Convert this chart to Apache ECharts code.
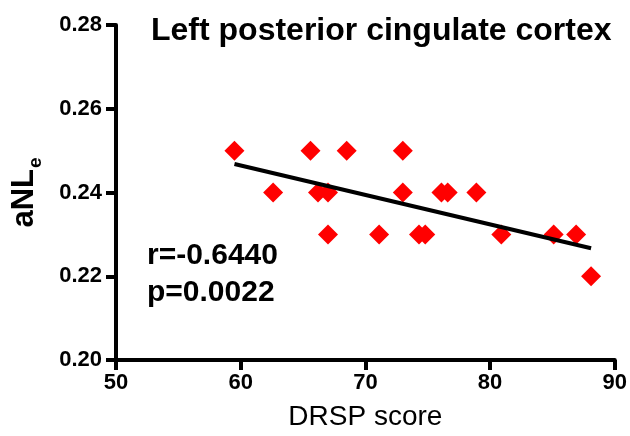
<!DOCTYPE html>
<html>
<head>
<meta charset="utf-8">
<script src="https://cdn.jsdelivr.net/npm/echarts@6/dist/echarts.min.js"></script>
<style>
  html, body { margin: 0; padding: 0; background: #fff; }
  #scatter { width: 630px; height: 436px; }
</style>
</head>
<body>
<div id="scatter"></div>
<script>
// DRSP score (x) vs aNLe (y)
var drsp = [59.5, 62.6, 65.6, 66.2, 67.0, 67.0, 68.5, 71.1, 73.0, 73.0, 74.3, 74.8, 76.1, 76.6, 78.9, 80.9, 85.1, 86.9, 88.1];
var anle = [0.25, 0.24, 0.25, 0.24, 0.24, 0.23, 0.25, 0.23, 0.25, 0.24, 0.23, 0.23, 0.24, 0.24, 0.24, 0.23, 0.23, 0.23, 0.22];
// regression line ends
var fitX = [59.5, 88.1];
var fitY = [0.2468, 0.2267];
var xTicks = [50, 60, 70, 80, 90];
var yTicks = [0.20, 0.22, 0.24, 0.26, 0.28];

var font = 'Liberation Sans, Arial, sans-serif';

var points = drsp.map(function (x, i) { return [x, anle[i]]; });
var fitLine = fitX.map(function (x, i) { return [x, fitY[i]]; });

var option = {
    animation: false,
    title: {
        text: 'Left posterior cingulate cortex',
        left: 146,
        top: 10,
        textStyle: { fontFamily: font, fontSize: 32, fontWeight: 'bold', color: '#000' }
    },
    grid: { left: 116, right: 14, top: 25, bottom: 76 },
    xAxis: {
        type: 'value',
        min: xTicks[0],
        max: xTicks[xTicks.length - 1],
        interval: 10,
        name: 'DRSP score',
        nameLocation: 'middle',
        nameGap: 43,
        nameTextStyle: { fontFamily: font, fontSize: 28, color: '#000' },
        splitLine: { show: false },
        axisLine: { lineStyle: { color: '#000', width: 4 } },
        axisTick: { length: 10, lineStyle: { color: '#000', width: 4 } },
        axisLabel: { fontFamily: font, fontSize: 22, fontWeight: 'bold', color: '#000', margin: 12 }
    },
    yAxis: {
        type: 'value',
        min: yTicks[0],
        max: yTicks[yTicks.length - 1],
        interval: 0.02,
        name: '{a|aNL}{s|e}',
        nameLocation: 'middle',
        nameRotate: 90,
        nameGap: 76,
        nameTextStyle: {
            rich: {
                a: { fontFamily: font, fontSize: 31, fontWeight: 'bold', color: '#000', lineHeight: 31, verticalAlign: 'top' },
                s: { fontFamily: font, fontSize: 19, fontWeight: 'bold', color: '#000', lineHeight: 19, verticalAlign: 'top', padding: [17, 0, 0, 1] }
            }
        },
        splitLine: { show: false },
        axisLine: { show: true, lineStyle: { color: '#000', width: 4 } },
        axisTick: { show: true, length: 10, lineStyle: { color: '#000', width: 4 } },
        axisLabel: {
            fontFamily: font, fontSize: 22, fontWeight: 'bold', color: '#000', margin: 14,
            formatter: function (v) { return v.toFixed(2); }
        }
    },
    graphic: [{
        type: 'text',
        left: 147,
        top: 237,
        style: {
            text: 'r=-0.6440\np=0.0022',
            font: 'bold 30px ' + font,
            lineHeight: 37,
            fill: '#000'
        }
    }],
    series: [{
        type: 'scatter',
        data: points,
        symbol: 'diamond',
        symbolSize: [20, 20],
        itemStyle: { color: '#ff0000', opacity: 1 },
        z: 2
    }, {
        type: 'line',
        data: fitLine,
        symbol: 'none',
        lineStyle: { color: '#000', width: 4 },
        z: 3
    }]
};

var chart = echarts.init(document.getElementById('scatter'));
chart.setOption(option);
</script>
</body>
</html>
